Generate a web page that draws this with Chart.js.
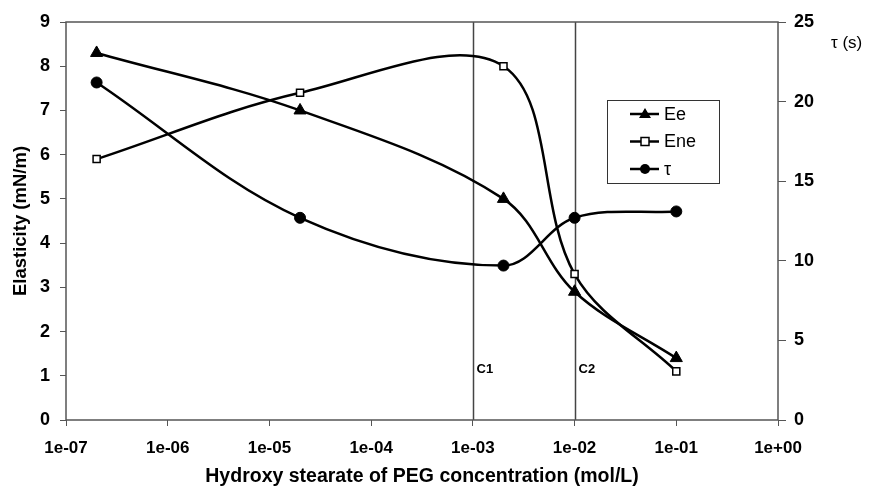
<!DOCTYPE html>
<html>
<head>
<meta charset="utf-8">
<script src="https://cdn.jsdelivr.net/npm/chart.js@4.4.1/dist/chart.umd.min.js"></script>
<style>
  html, body { margin: 0; padding: 0; background: #fff; }
  #wrap { width: 878px; height: 486px; position: relative; }
</style>
</head>
<body>
<div id="wrap"><canvas id="lineChart"></canvas></div>
<script>
var concentrations = [2e-7, 2e-5, 2e-3, 1e-2, 1e-1];
var eeValues = [8.3, 7.0, 5.0, 2.9, 1.4];
var eneValues = [5.9, 7.4, 8.0, 3.3, 1.1];
var tauValues = [21.2, 12.7, 9.7, 12.7, 13.1];
var xTickValues = [1e-7, 1e-6, 1e-5, 1e-4, 1e-3, 1e-2, 1e-1, 1];
var markerLines = [1e-3, 1e-2];
var markerLabels = ['C1', 'C2'];

function toPoints(values) {
    return concentrations.map(function (c, i) { return { x: c, y: values[i] }; });
}

function formatExp(v) {
    var e = Math.round(Math.log10(v));
    var sign = e < 0 ? '-' : '+';
    var n = Math.abs(e);
    return '1e' + sign + (n < 10 ? '0' + n : n);
}

var FONT = '"Liberation Sans", Arial, sans-serif';
var axisGray = '#555';

// vertical lines, labels, frame, legend, right axis title
var extras = {
    id: 'extras',
    beforeDatasetsDraw: function (chart) {
        var ctx = chart.ctx, a = chart.chartArea;
        var x = chart.scales.x, y = chart.scales.y;
        ctx.save();
        ctx.strokeStyle = '#444';
        ctx.lineWidth = 1.5;
        markerLines.forEach(function (v, i) {
            var px = Math.round(x.getPixelForValue(v)) + 0.5;
            ctx.beginPath();
            ctx.moveTo(px, a.top);
            ctx.lineTo(px, a.bottom);
            ctx.stroke();
            ctx.fillStyle = '#000';
            ctx.font = 'bold 13px ' + FONT;
            ctx.textBaseline = 'middle';
            ctx.fillText(markerLabels[i], px + 3, y.getPixelForValue(1.15));
        });
        ctx.strokeStyle = axisGray;
        ctx.lineWidth = 1.5;
        ctx.strokeRect(a.left, a.top, a.right - a.left, a.bottom - a.top);
        ctx.restore();
    },
    afterDraw: function (chart) {
        var ctx = chart.ctx;
        ctx.save();
        // legend box
        var bx = 607, by = 100, bw = 112, bh = 83;
        ctx.fillStyle = '#fff';
        ctx.fillRect(bx, by, bw, bh);
        ctx.strokeStyle = '#333';
        ctx.lineWidth = 1;
        ctx.strokeRect(bx + 0.5, by + 0.5, bw, bh);
        chart.data.datasets.forEach(function (ds, i) {
            var ly = by + 14 + i * 27.5;
            ctx.strokeStyle = '#000';
            ctx.lineWidth = 2.5;
            ctx.beginPath();
            ctx.moveTo(bx + 23, ly);
            ctx.lineTo(bx + 52, ly);
            ctx.stroke();
            var cx = bx + 38;
            ctx.lineWidth = 1.5;
            if (ds.pointStyle === 'triangle') {
                ctx.fillStyle = '#000';
                ctx.beginPath();
                ctx.moveTo(cx, ly - 6);
                ctx.lineTo(cx + 6, ly + 4);
                ctx.lineTo(cx - 6, ly + 4);
                ctx.closePath();
                ctx.fill();
            } else if (ds.pointStyle === 'rect') {
                ctx.fillStyle = '#fff';
                ctx.fillRect(cx - 4, ly - 4, 8, 8);
                ctx.strokeRect(cx - 4, ly - 4, 8, 8);
            } else {
                ctx.fillStyle = '#000';
                ctx.beginPath();
                ctx.arc(cx, ly, 5, 0, Math.PI * 2);
                ctx.fill();
            }
            ctx.fillStyle = '#000';
            ctx.font = '18px ' + FONT;
            ctx.textBaseline = 'middle';
            ctx.fillText(ds.label, bx + 57, ly + 1);
        });
        // right axis title
        ctx.font = '17px ' + FONT;
        ctx.textBaseline = 'middle';
        ctx.fillText('\u03c4 (s)', 831, 43);
        ctx.restore();
    }
};

var canvas = document.getElementById('lineChart');

var lineChart = new Chart(canvas, {
    type: 'line',
    data: {
        datasets: [{
            label: 'Ee',
            data: toPoints(eeValues),
            yAxisID: 'y',
            borderColor: '#000',
            backgroundColor: '#000',
            borderWidth: 2.5,
            pointStyle: 'triangle',
            pointRadius: 7,
            pointBorderWidth: 1,
            tension: 0.35
        }, {
            label: 'Ene',
            data: toPoints(eneValues),
            yAxisID: 'y',
            borderColor: '#000',
            backgroundColor: '#fff',
            borderWidth: 2.5,
            pointStyle: 'rect',
            pointRadius: 5,
            pointBorderWidth: 1.5,
            tension: 0.35
        }, {
            label: '\u03c4',
            data: toPoints(tauValues),
            yAxisID: 'y1',
            borderColor: '#000',
            backgroundColor: '#000',
            borderWidth: 2.5,
            pointStyle: 'circle',
            pointRadius: 5.5,
            pointBorderWidth: 1,
            tension: 0.35
        }]
    },
    options: {
        responsive: true,
        maintainAspectRatio: false,
        animation: false,
        layout: { padding: { top: 22, left: 0, right: 0, bottom: 0 } },
        plugins: {
            legend: { display: false },
            tooltip: { enabled: false }
        },
        scales: {
            x: {
                type: 'logarithmic',
                min: 1e-7,
                max: 1,
                afterBuildTicks: function (scale) {
                    scale.ticks = xTickValues.map(function (v) { return { value: v }; });
                },
                afterFit: function (scale) { scale.height = 66; },
                grid: { drawOnChartArea: false, tickLength: 6, color: axisGray },
                border: { display: false },
                ticks: {
                    color: '#000',
                    font: { family: FONT, size: 17, weight: 'bold' },
                    maxRotation: 0,
                    autoSkip: false,
                    padding: 12,
                    callback: function (v) { return formatExp(v); }
                },
                title: {
                    display: true,
                    text: 'Hydroxy stearate of PEG concentration (mol/L)',
                    color: '#000',
                    font: { family: FONT, size: 19.5, weight: 'bold' },
                    padding: { top: 7, bottom: -2 }
                }
            },
            y: {
                position: 'left',
                min: 0,
                max: 9,
                afterFit: function (scale) { scale.width = 66; },
                grid: { drawOnChartArea: false, tickLength: 6, color: axisGray },
                border: { display: false },
                ticks: {
                    stepSize: 1,
                    color: '#000',
                    font: { family: FONT, size: 18, weight: 'bold' },
                    padding: 10
                },
                title: {
                    display: true,
                    text: 'Elasticity (mN/m)',
                    color: '#000',
                    font: { family: FONT, size: 18.5, weight: 'bold' },
                    padding: { top: 10, bottom: 0 }
                }
            },
            y1: {
                position: 'right',
                min: 0,
                max: 25,
                afterFit: function (scale) { scale.width = 100; },
                grid: { drawOnChartArea: false, tickLength: 8, color: axisGray },
                border: { display: false },
                ticks: {
                    stepSize: 5,
                    color: '#000',
                    font: { family: FONT, size: 18, weight: 'bold' },
                    padding: 8
                }
            }
        }
    },
    plugins: [extras]
});
</script>
</body>
</html>
